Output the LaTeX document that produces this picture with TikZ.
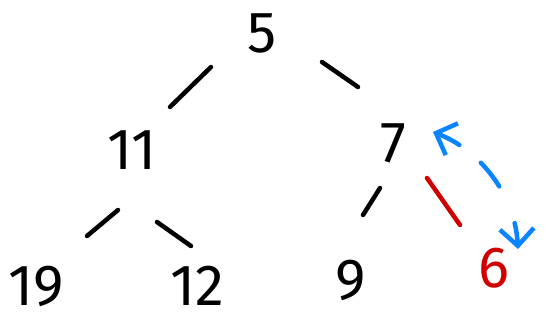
\documentclass[tikz,border=0pt]{standalone}
\usepackage{fontspec}
\setmainfont{Fira Sans}
\usetikzlibrary{arrows.meta,calc}
\definecolor{inkred}{HTML}{D00000}
\definecolor{inkblue}{HTML}{0A84FF}
\begin{document}
\begin{tikzpicture}[x=1pt,y=-1pt,
  num/.style={inner sep=0pt, font=\fontsize{58}{58}\selectfont},
  edge/.style={line width=4.5pt, line cap=round},
  swap/.style={inkblue, line width=4.5pt, line cap=round,
    {Straight Barb[length=17pt,width=34pt]}-{Straight Barb[length=17pt,width=34pt]},
    dash pattern=on 24pt off 28pt on 30pt off 40pt on 80pt}]
\useasboundingbox (0,0) rectangle (557,322);
\node[num] (n5)  at (262,33)  {5};
\node[num] (n11) at (132,150) {11};
\node[num] (n7)  at (393,143) {7};
\node[num] (n19) at (36,286)  {19};
\node[num] (n12) at (197,286) {12};
\node[num] (n9)  at (351,280) {9};
\node[num, text=inkred] (n6) at (494,268) {6};
\draw[edge] ($(n5.center)+(-51,34)$) -- ($(n11.center)+(38,-43)$);
\draw[edge] ($(n5.center)+(60,29)$) -- ($(n7.center)+(-35,-56)$);
\draw[edge] ($(n11.center)+(-14,60)$) -- ($(n19.center)+(51,-50)$);
\draw[edge] ($(n11.center)+(25,72)$) -- ($(n12.center)+(-6,-40)$);
\draw[edge] ($(n7.center)+(-13,45)$) -- ($(n9.center)+(12,-65)$);
\draw[edge, inkred] ($(n7.center)+(34,35)$) -- ($(n6.center)+(-34,-43)$);
\coordinate (a1) at (433,132);
\coordinate (a2) at (518,249);
\draw[swap] (a1) .. controls (480,150) and (515,195) .. (a2);
\end{tikzpicture}
\end{document}
